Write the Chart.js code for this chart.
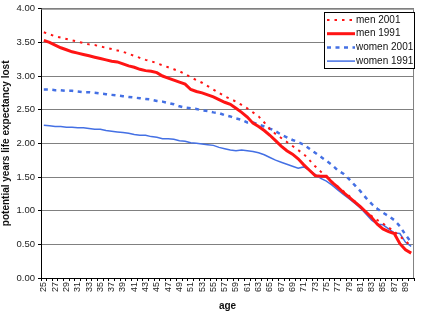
<!DOCTYPE html>
<html>
<head>
<meta charset="utf-8">
<script src="https://cdn.jsdelivr.net/npm/chart.js@4.4.0/dist/chart.umd.min.js"></script>
<style>
  html, body { margin: 0; padding: 0; background: #fff; }
  #wrap { width: 423px; height: 312px; }
</style>
</head>
<body>
<div id="wrap"><canvas id="lifeChart" width="423" height="312"></canvas></div>
<script>
// ages 25..90
const ages = [];
for (let a = 25; a <= 90; a++) ages.push(String(a));

const men2001 = [3.65, 3.62, 3.59, 3.57, 3.55, 3.53, 3.51, 3.49, 3.47, 3.46,
    3.44, 3.42, 3.40, 3.38, 3.36, 3.33, 3.30, 3.27, 3.24, 3.22,
    3.19, 3.16, 3.13, 3.10, 3.07, 3.03, 2.98, 2.94, 2.90, 2.85,
    2.80, 2.75, 2.70, 2.66, 2.62, 2.57, 2.52, 2.46, 2.40, 2.31,
    2.21, 2.14, 2.08, 2.02, 1.96, 1.90, 1.84, 1.75, 1.66, 1.58,
    1.50, 1.43, 1.36, 1.29, 1.22, 1.14, 1.05, 0.98, 0.92, 0.86,
    0.81, 0.75, 0.69, 0.62, 0.55, 0.47];

const men1991 = [3.53, 3.50, 3.46, 3.42, 3.39, 3.36, 3.34, 3.32, 3.30, 3.28,
    3.26, 3.24, 3.22, 3.21, 3.18, 3.15, 3.13, 3.10, 3.08, 3.07,
    3.05, 3.00, 2.97, 2.94, 2.91, 2.88, 2.80, 2.77, 2.75, 2.72,
    2.69, 2.65, 2.61, 2.58, 2.52, 2.46, 2.39, 2.30, 2.25, 2.19,
    2.12, 2.04, 1.96, 1.89, 1.84, 1.77, 1.68, 1.60, 1.52, 1.51,
    1.51, 1.42, 1.35, 1.27, 1.20, 1.13, 1.06, 0.98, 0.90, 0.80,
    0.73, 0.69, 0.66, 0.51, 0.42, 0.37];

const women2001 = [2.80, 2.80, 2.79, 2.79, 2.78, 2.78, 2.77, 2.76, 2.76, 2.75,
    2.74, 2.73, 2.72, 2.71, 2.70, 2.69, 2.68, 2.67, 2.66, 2.65,
    2.63, 2.62, 2.60, 2.58, 2.55, 2.53, 2.52, 2.51, 2.49, 2.48,
    2.46, 2.45, 2.42, 2.40, 2.37, 2.35, 2.31, 2.31, 2.28, 2.25,
    2.22, 2.18, 2.13, 2.09, 2.05, 2.02, 1.98, 1.92, 1.86, 1.80,
    1.74, 1.68, 1.60, 1.55, 1.47, 1.38, 1.29, 1.19, 1.10, 1.03,
    0.97, 0.92, 0.86, 0.77, 0.64, 0.53];

const women1991 = [2.27, 2.26, 2.25, 2.25, 2.24, 2.24, 2.23, 2.23, 2.22, 2.21,
    2.21, 2.19, 2.18, 2.17, 2.16, 2.15, 2.13, 2.12, 2.12, 2.10,
    2.09, 2.07, 2.07, 2.06, 2.04, 2.03, 2.01, 2.00, 1.99, 1.98,
    1.97, 1.94, 1.92, 1.90, 1.89, 1.90, 1.89, 1.88, 1.86, 1.83,
    1.79, 1.75, 1.72, 1.69, 1.66, 1.63, 1.65, 1.60, 1.54, 1.48,
    1.44, 1.38, 1.31, 1.24, 1.18, 1.11, 1.04, 0.95, 0.86, 0.80,
    0.79, 0.73, 0.67, 0.66, 0.53, 0.47];

const seriesNames = ['men 2001', 'men 1991', 'women 2001', 'women 1991'];

const RED = '#ff1414';
const BLUE = '#4470e4';
const FONT = "'Liberation Sans', Arial, sans-serif";

// frame round plot area + boxed legend, Excel style
const framePlugin = {
    id: 'frame',
    beforeDatasetsDraw(chart) {
        const { ctx, chartArea: a } = chart;
        ctx.save();
        ctx.strokeStyle = '#808080';
        ctx.lineWidth = 1;
        ctx.beginPath();
        ctx.moveTo(a.left, a.top + 0.5);
        ctx.lineTo(a.right - 0.5, a.top + 0.5);
        ctx.lineTo(a.right - 0.5, a.bottom);
        ctx.stroke();
        ctx.restore();
    },
    afterDraw(chart) {
        const ctx = chart.ctx;
        const x = 324, y = 12, w = 90, h = 56;
        ctx.save();
        ctx.fillStyle = '#fff';
        ctx.fillRect(x, y, w, h);
        ctx.strokeStyle = '#000';
        ctx.lineWidth = 1;
        ctx.strokeRect(x + 0.5, y + 0.5, w, h);
        ctx.font = '10px ' + FONT;
        ctx.textBaseline = 'middle';
        chart.data.datasets.forEach((ds, i) => {
            const ly = y + 8 + i * 13.7;
            ctx.strokeStyle = ds.borderColor;
            ctx.lineWidth = ds.borderWidth;
            ctx.setLineDash(ds.borderDash || []);
            ctx.beginPath();
            ctx.moveTo(x + 3, ly);
            ctx.lineTo(x + 31, ly);
            ctx.stroke();
            ctx.setLineDash([]);
            ctx.fillStyle = '#111';
            ctx.fillText(ds.label, x + 32, ly);
        });
        ctx.restore();
    }
};

const ctx = document.getElementById('lifeChart').getContext('2d');
const myChart = new Chart(ctx, {
    type: 'line',
    data: {
        labels: ages,
        datasets: [{
            label: seriesNames[0],
            data: men2001,
            borderColor: RED,
            borderWidth: 2,
            borderDash: [2.5, 5],
            pointRadius: 0
        }, {
            label: seriesNames[1],
            data: men1991,
            borderColor: RED,
            borderWidth: 3,
            pointRadius: 0
        }, {
            label: seriesNames[2],
            data: women2001,
            borderColor: BLUE,
            borderWidth: 2.5,
            borderDash: [4, 4.5],
            pointRadius: 0
        }, {
            label: seriesNames[3],
            data: women1991,
            borderColor: BLUE,
            borderWidth: 1.5,
            pointRadius: 0
        }]
    },
    options: {
        responsive: false,
        animation: false,
        layout: { padding: { top: 5, right: 1, left: 0, bottom: 0 } },
        plugins: {
            legend: { display: false },
            tooltip: { enabled: false }
        },
        scales: {
            x: {
                type: 'category',
                offset: true,
                grid: {
                    display: true,
                    drawOnChartArea: false,
                    drawTicks: true,
                    tickLength: 3,
                    color: '#000',
                    offset: true
                },
                border: { color: '#000', width: 1 },
                ticks: {
                    autoSkip: false,
                    maxRotation: 90,
                    minRotation: 90,
                    padding: 1,
                    color: '#222',
                    font: { family: FONT, size: 9 },
                    callback: function(val, idx) {
                        return idx % 2 === 0 ? this.getLabelForValue(val) : '';
                    }
                },
                title: {
                    display: true,
                    text: 'age',
                    color: '#111',
                    font: { family: FONT, size: 10, weight: 'bold' },
                    padding: { top: 0, bottom: 0 }
                },
                afterFit: function(scale) { scale.height = 34; }
            },
            y: {
                min: 0,
                max: 4,
                grid: {
                    color: '#808080',
                    lineWidth: 1,
                    drawTicks: true,
                    tickLength: 3,
                    tickColor: '#000'
                },
                border: { color: '#000', width: 1 },
                ticks: {
                    stepSize: 0.5,
                    padding: 3,
                    color: '#222',
                    font: { family: FONT, size: 9.5 },
                    callback: v => v.toFixed(2)
                },
                title: {
                    display: true,
                    text: 'potential years life expectancy lost',
                    color: '#111',
                    font: { family: FONT, size: 10, weight: 'bold' },
                    padding: { top: 0, bottom: 2 }
                },
                afterFit: function(scale) { scale.width = 41; }
            }
        }
    },
    plugins: [framePlugin]
});
</script>
</body>
</html>
